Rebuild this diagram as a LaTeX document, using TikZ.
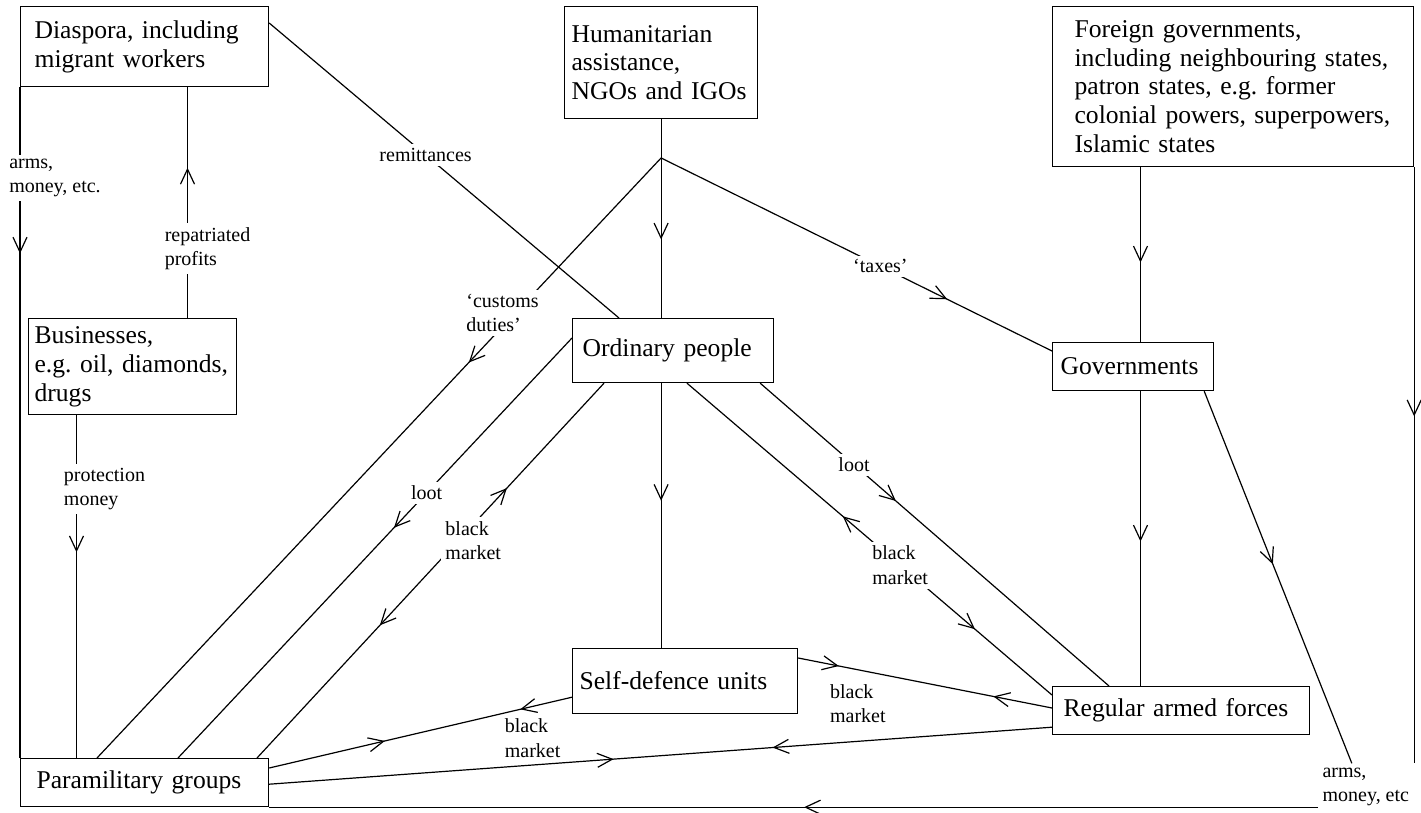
\documentclass[tikz,border=0pt]{standalone}
\usepackage{fontspec}
\setmainfont{Liberation Serif}
\usetikzlibrary{arrows.meta,decorations.markings}
\frenchspacing

\tikzset{
  barb/.tip={Straight Barb[length=7.5pt,width=7pt]},
  box/.style={draw, anchor=north west, align=left, inner ysep=0pt,
    font=\fontsize{12.8}{14.4}\selectfont},
  lab/.style={fill=white, align=left, inner sep=2pt,
    font=\fontsize{10}{12.2}\selectfont},
  fwd/.style={postaction={decorate,decoration={markings,
    mark=at position #1 with {\arrow{barb}}}}},
  bwd/.style={postaction={decorate,decoration={markings,
    mark=at position #1 with {\arrowreversed{barb}}}}},
}

\begin{document}
\begin{tikzpicture}[x=0.5pt,y=-0.5pt,line width=0.6pt]
  \useasboundingbox (0,0) rectangle (1421,813);
  % actors
  \node[box, text width=110pt, inner xsep=7pt, minimum height=40pt] (dias) at (20,6)
    {Diaspora, including\\migrant workers};
  \node[box, text width=89.5pt, inner xsep=3.5pt, minimum height=56pt] (hum) at (564,6)
    {Humanitarian\\assistance,\\NGOs and IGOs};
  \node[box, text width=158.5pt, inner xsep=11pt, minimum height=80pt] (fgn) at (1052,6)
    {Foreign governments,\\including neighbouring states,\\patron states, e.g. former\\colonial powers, superpowers,\\Islamic states};
  \node[box, text width=98pt, inner xsep=3pt, minimum height=48pt] (bus) at (28,318)
    {Businesses,\\e.g. oil, diamonds,\\drugs};
  \node[box, text width=90.5pt, inner xsep=5pt, minimum height=32pt] (ord) at (572,318)
    {Ordinary people};
  \node[box, text width=72.5pt, inner xsep=4pt, minimum height=24pt] (gov) at (1052,342)
    {Governments};
  \node[box, text width=105.5pt, inner xsep=3.5pt, minimum height=32.5pt] (sdu) at (572,648)
    {Self-defence units};
  \node[box, text width=117.5pt, inner xsep=5.5pt, minimum height=24pt] (reg) at (1052,686)
    {Regular armed forces};
  \node[box, text width=108pt, inner xsep=8pt, minimum height=24pt] (para) at (20,758)
    {Paramilitary groups};
  \coordinate (repcol) at (187.5,0);
  \coordinate (protcol) at (76.5,0);
  \coordinate (govcol) at (1140.5,0);
  \path (hum.south) -- (hum.south |- ord.north) coordinate[pos=0.195] (jn);
  % diaspora and businesses
  \draw[fwd=0.248] (dias.south west) -- node[lab, pos=0.135, xshift=17.5pt] {arms,\\money, etc.} (para.north west);
  \draw[fwd=0.651] (repcol |- bus.north) -- node[lab, pos=0.30, xshift=10pt] {repatriated\\profits} (repcol |- dias.south);
  \draw[fwd=0.40] (protcol |- bus.south) -- node[lab, pos=0.215, xshift=14pt] {protection\\money} (protcol |- para.north);
  \draw[fwd=0.487] ([yshift=-8.5pt]dias.north east) -- node[lab, pos=0.447] {remittances} ([xshift=23.5pt]ord.north west);
  % humanitarian assistance
  \draw[fwd=0.605] (hum.south) -- (hum.south |- ord.north);
  \draw[fwd=0.341] (jn) -- node[lab, pos=0.258, xshift=-6.5pt] {`customs\\duties'} ([xshift=38.5pt]para.north west);
  \draw[fwd=0.732] (jn) -- node[lab, pos=0.561] {`taxes'} ([yshift=-4.5pt]gov.north west);
  % ordinary people
  \draw[fwd=0.444] (hum.south |- ord.south) -- (hum.south |- sdu.north);
  \draw[fwd=0.452] ([yshift=-10pt]ord.north west) -- node[lab, pos=0.369] {loot} ([xshift=79pt]para.north west);
  \draw[bwd=0.354, fwd=0.72] ([xshift=118.5pt]para.north west) -- node[lab, pos=0.58, xshift=7.5pt] {black\\market} ([xshift=16pt]ord.south west);
  \draw[bwd=0.427, fwd=0.789] ([xshift=57.5pt]ord.south west) -- node[lab, pos=0.584] {black\\market} ([yshift=-4.5pt]reg.north west);
  \draw[fwd=0.389] ([xshift=-7pt]ord.south east) -- node[lab, pos=0.269] {loot} ([xshift=28.5pt]reg.north west);
  % governments
  \draw[fwd=0.545] (govcol |- fgn.south) -- (govcol |- gov.north);
  \draw[fwd=0.51] (govcol |- gov.south) -- (govcol |- reg.north);
  \node[lab, anchor=west] (amt) at (1318,787) {arms,\\money, etc};
  \draw[fwd=0.418] (fgn.south east) -- (fgn.south east |- amt.north);
  \draw[fwd=0.465] ([xshift=-5pt]gov.south east) -- ([xshift=-7pt]amt.north);
  \draw[fwd=0.49] (amt.west |- para.south east) -- (para.south east);
  % armed groups
  \draw[fwd=0.16, bwd=0.769] ([yshift=-5pt]sdu.north east) -- node[lab, pos=0.235, anchor=north, yshift=-5pt] {black\\market} ([yshift=-11pt]reg.north west);
  \draw[fwd=0.357, bwd=0.56] ([yshift=4pt]reg.south west) -- ([yshift=11.5pt]para.south east);
  \draw[fwd=0.171, bwd=0.618] ([yshift=8.5pt]sdu.south west) -- node[lab, pos=0.13, anchor=north, yshift=-4pt] {black\\market} ([yshift=-5pt]para.north east);
\end{tikzpicture}
\end{document}
